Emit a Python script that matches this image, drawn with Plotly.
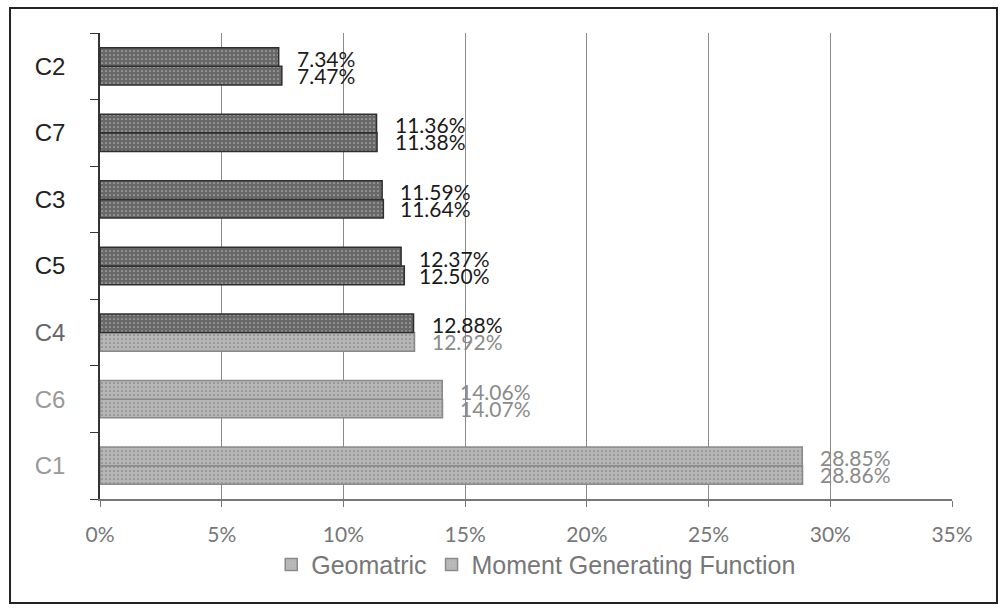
import plotly.graph_objects as go

# bottom-to-top order
categories = ["C1", "C6", "C4", "C5", "C3", "C7", "C2"]
geometric = [28.85, 14.06, 12.88, 12.37, 11.59, 11.36, 7.34]
mgf = [28.86, 14.07, 12.92, 12.50, 11.64, 11.38, 7.47]
x_ticks = [0, 5, 10, 15, 20, 25, 30, 35]

DARK, LIGHT = "#686868", "#b6b6b6"
DARK_LINE, LIGHT_LINE = "#2e2e2e", "#8a8a8a"
DARK_TXT, LIGHT_TXT = "#1a1a1a", "#8a8a8a"

geo_dark = [False, False, True, True, True, True, True]
mgf_dark = [False, False, False, True, True, True, True]
cat_colors = ["#999", "#999", "#666", "#222", "#222", "#222", "#222"]

fig = go.Figure()
fig.add_trace(go.Bar(
    y=categories, x=mgf, orientation="h", name="Moment Generating Function",
    marker=dict(color=[DARK if d else LIGHT for d in mgf_dark],
                line=dict(color=[DARK_LINE if d else LIGHT_LINE for d in mgf_dark], width=1.5),
                pattern=dict(shape=".", fgcolor="#d8d8d8", size=4, solidity=0.15)),
))
fig.add_trace(go.Bar(
    y=categories, x=geometric, orientation="h", name="Geomatric",
    marker=dict(color=[DARK if d else LIGHT for d in geo_dark],
                line=dict(color=[DARK_LINE if d else LIGHT_LINE for d in geo_dark], width=1.5),
                pattern=dict(shape=".", fgcolor="#d0d0d0", size=4, solidity=0.15)),
))

anns = []
for i, c in enumerate(categories):
    anns.append(dict(x=geometric[i], y=c, xref="x", yref="y", text=f"{geometric[i]:.2f}%",
                     showarrow=False, xanchor="left", yanchor="middle", xshift=16, yshift=8,
                     font=dict(family="Lato", size=21, color=DARK_TXT if geo_dark[i] else LIGHT_TXT)))
    anns.append(dict(x=geometric[i], y=c, xref="x", yref="y", text=f"{mgf[i]:.2f}%",
                     showarrow=False, xanchor="left", yanchor="middle", xshift=16, yshift=-9,
                     font=dict(family="Lato", size=21, color=DARK_TXT if mgf_dark[i] else LIGHT_TXT)))

fig.update_layout(
    width=1000, height=608,
    margin=dict(l=100, r=48, t=33, b=109, autoexpand=False),
    paper_bgcolor="white", plot_bgcolor="white",
    barmode="group", bargap=0.44, bargroupgap=0,
    annotations=anns,
    showlegend=True,
    legend=dict(orientation="h", x=0.512, xanchor="center", y=-0.141, yanchor="middle",
                traceorder="reversed",
                font=dict(family="Liberation Sans", size=25, color="#777"),
                itemwidth=30, tracegroupgap=0),
    xaxis=dict(range=[0, 35], tickvals=x_ticks, ticktext=[f"{v}%" for v in x_ticks],
               showgrid=True, gridcolor="#8a8a8a", gridwidth=1,
               showline=True, linecolor="#777", linewidth=1.5,
               ticks="outside", ticklen=6, tickcolor="#777",
               tickfont=dict(family="Lato", size=21, color="#777"),
               ticklabelstandoff=10, zeroline=False, fixedrange=True, automargin=False),
    yaxis=dict(tickvals=categories,
               ticktext=[f'<span style="color:{col}">{c}</span>' for c, col in zip(categories, cat_colors)],
               showline=True, linecolor="#333", linewidth=1.5,
               ticks="outside", ticklen=8, tickcolor="#333", tickson="boundaries",
               tickfont=dict(family="Liberation Sans", size=24, color="#222"),
               ticklabelstandoff=28, showgrid=False, fixedrange=True, automargin=False),
    shapes=[dict(type="rect", xref="paper", yref="paper",
                 x0=-0.1056, x1=1.0528, y0=-0.2232, y1=1.0536,
                 line=dict(color="#222", width=2), fillcolor="rgba(0,0,0,0)", layer="below")],
)

fig.write_html("out.html", config={"displayModeBar": False},
               post_script="document.body.style.margin='0';")
